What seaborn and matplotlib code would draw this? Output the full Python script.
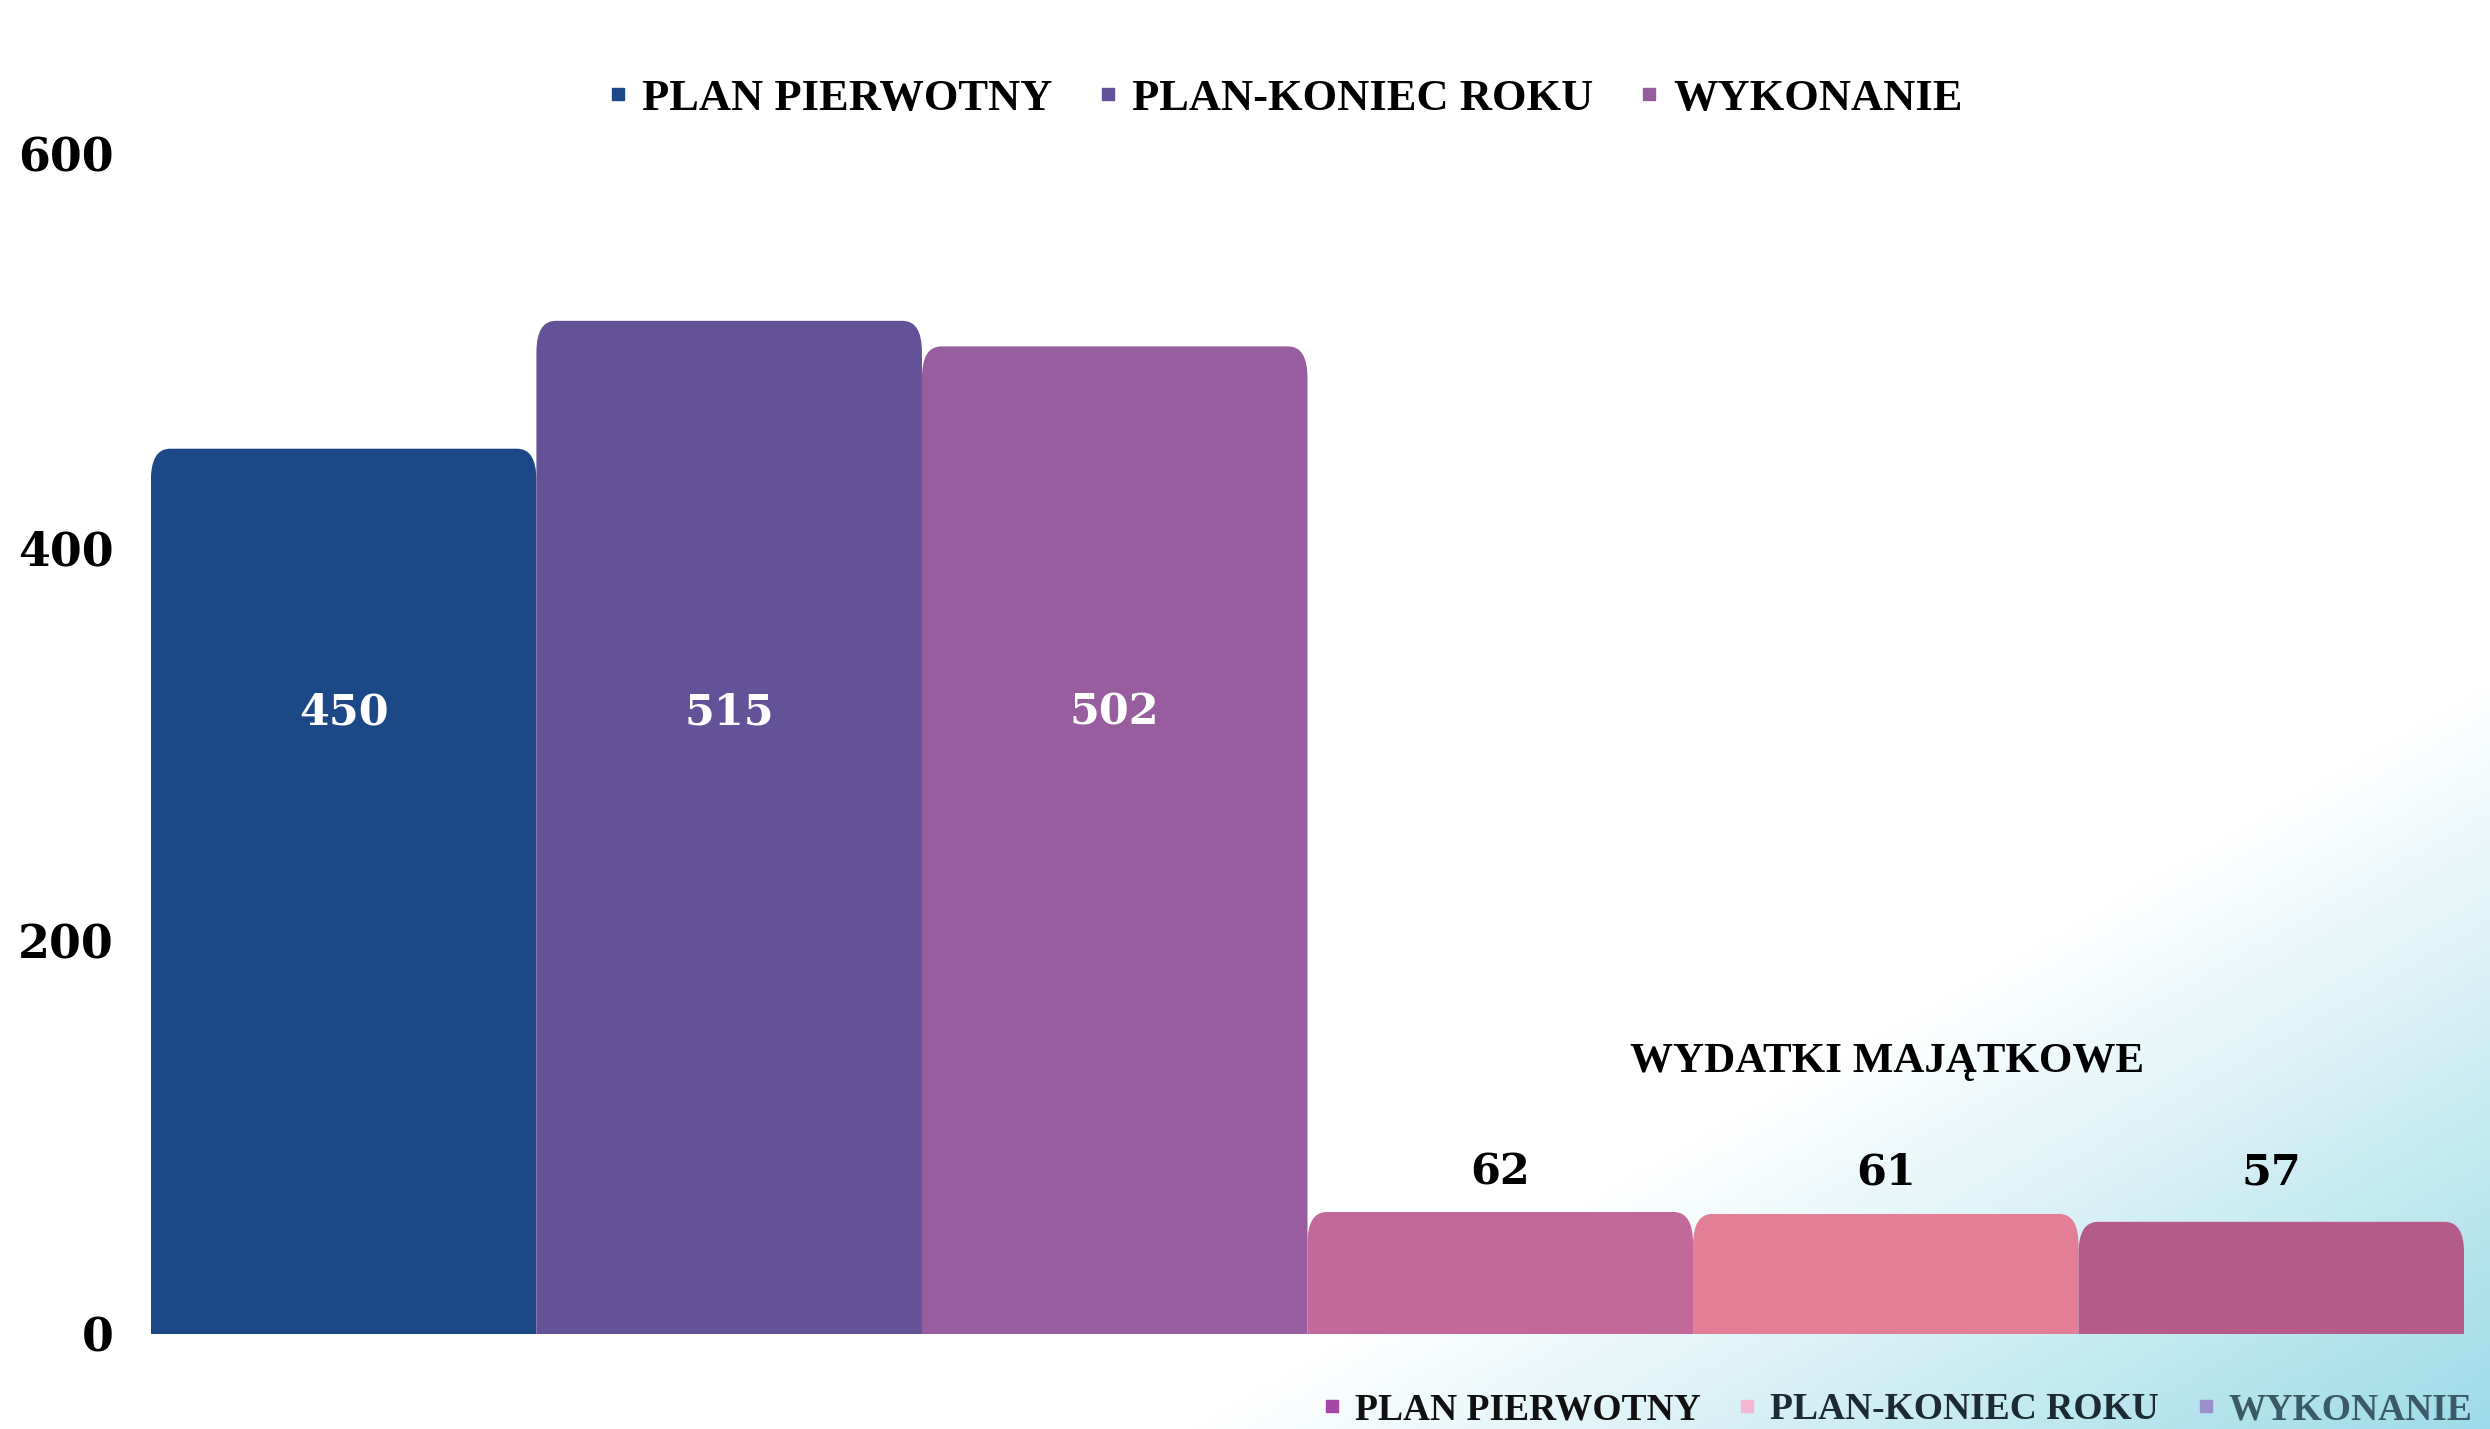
import matplotlib
matplotlib.use("Agg")
import matplotlib.pyplot as plt
from matplotlib.lines import Line2D
from matplotlib.patches import FancyBboxPatch
import numpy as np
import pandas as pd
import seaborn as sns

# data
series = ["PLAN PIERWOTNY", "PLAN-KONIEC ROKU", "WYKONANIE"]
biezace = [450, 515, 502]
majatkowe = [62, 61, 57]
title_majatkowe = "WYDATKI MAJĄTKOWE"
hidden_label = "140,41"
yticks = [0, 200, 400, 600]

bar_colors = ["#1c4887", "#635297", "#975d9f", "#c2689a", "#e27e96", "#b45b8a"]
bottom_legend_colors = ["#a646a6", "#f4b6d0", "#9b90cc"]
bottom_legend_text = ["#111111", "#1c2a33", "#3b5966"]

SERIF = "Liberation Serif"
NUMF = "DejaVu Serif"


def round_tops(ax, rx, ry):
    """Swap seaborn's rectangles for boxes with rounded top corners"""
    for bar in list(ax.patches):
        x, y = bar.get_x(), bar.get_y()
        w, h = bar.get_width(), bar.get_height()
        fc = bar.get_facecolor()
        bar.set_visible(False)
        box = FancyBboxPatch((x, y - 3 * ry), w, h + 3 * ry,
                             boxstyle=f"round,pad=0,rounding_size={rx}",
                             mutation_aspect=ry / rx, fc=fc, ec="none", zorder=2)
        ax.add_patch(box)


def gradient_background(fig):
    """White page fading to light cyan in the bottom right corner"""
    bg = fig.add_axes([0, 0, 1, 1], zorder=0)
    h, w = 300, 500
    xx, yy = np.meshgrid(np.linspace(0, 1, w), np.linspace(0, 1, h))
    t = np.clip((xx + yy - 1.48) / 0.52, 0, 1)
    corner = np.array([0.62, 0.86, 0.91])
    img = (1 - t)[..., None] * np.ones(3) + t[..., None] * corner
    bg.imshow(img, extent=[0, 1, 0, 1], aspect="auto", origin="upper")
    bg.set_axis_off()


df = pd.DataFrame({
    "slot": [f"b{i}" for i in range(6)],
    "value": biezace + majatkowe,
})

fig = plt.figure(figsize=(24.9, 14.29), dpi=100)
gradient_background(fig)

ax = fig.add_axes([0.0606, 0.0665, 0.929, 0.826], zorder=1)
ax.patch.set_alpha(0)
sns.barplot(data=df, x="slot", y="value", hue="slot", palette=bar_colors,
            saturation=1, width=1.0, legend=False, ax=ax)
ax.set_xlim(-0.5, 5.5)
ax.set_ylim(0, 600)
round_tops(ax, 0.05, 16)

# value labels
for i, v in enumerate(biezace):
    ax.text(i, 316, str(v), ha="center", va="center", color="white",
            fontsize=31, fontweight="bold", family=NUMF, zorder=3)
for i, v in enumerate(majatkowe):
    ax.text(3 + i, 82, str(v), ha="center", va="center", color="black",
            fontsize=31, fontweight="bold", family=NUMF, zorder=3)

ax.set_yticks(yticks)
ax.set_yticklabels([str(t) for t in yticks], family=NUMF, fontweight="bold",
                   fontsize=33)
ax.set_xticks([])
ax.set_xlabel("")
ax.set_ylabel("")
ax.tick_params(axis="y", length=0, pad=27)
for spine in ax.spines.values():
    spine.set_visible(False)

fig.text(0.758, 0.257, title_majatkowe, ha="center", va="center",
         fontsize=31, fontweight="bold", family=SERIF)
fig.text(0.9325, 0.467, hidden_label, ha="center", va="center", color="white",
         fontsize=30, fontweight="bold", family=SERIF, alpha=0.8)

top_handles = [Line2D([], [], marker="s", ls="", color=c, markersize=9)
               for c in bar_colors[:3]]
fig.legend(top_handles, series, loc="center", bbox_to_anchor=(0.516, 0.931),
           ncol=3, frameon=False, handlelength=0.5, handletextpad=0.3,
           columnspacing=1.0, prop={"family": SERIF, "weight": "bold", "size": 32})

bot_handles = [Line2D([], [], marker="s", ls="", color=c, markersize=8)
               for c in bottom_legend_colors]
fig.legend(bot_handles, series, loc="center", bbox_to_anchor=(0.762, 0.0133),
           ncol=3, frameon=False, handlelength=0.5, handletextpad=0.35,
           columnspacing=1.0, labelcolor=bottom_legend_text,
           prop={"family": SERIF, "weight": "bold", "size": 27})

fig.savefig("out.png", dpi=100)
plt.close()
